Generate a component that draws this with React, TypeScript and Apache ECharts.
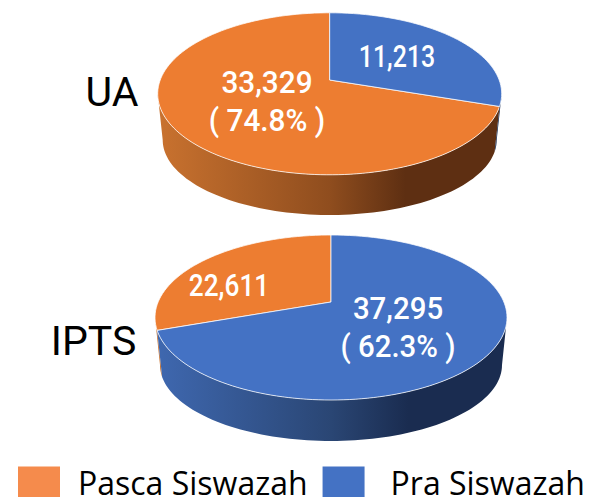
import React, { useEffect, useRef } from "react";
import * as echarts from "echarts";

const pieNames = ["UA", "IPTS"];
const seriesNames = ["Pasca Siswazah", "Pra Siswazah"];
const pascaValues = [33329, 22611];
const praValues = [11213, 37295];
// clockwise rim angles of each wedge as drawn in the picture (degrees from 12 o'clock)
const pascaArcStart = [99, 261];
const pascaArcEnd = [360, 360];
const praArcStart = [0, 0];
const praArcEnd = [99, 261];

const FONT = "Roboto, sans-serif";

const pies = [
  { cx: 329.7, cy: 93.8, rx: 172, ry: 81, apexY: 80, cy2: 140, rx2: 167, ry2: 75, nameX: 112, nameY: 92 },
  { cx: 331, cy: 317.5, rx: 176, ry: 82.5, apexY: 302, cy2: 365, rx2: 171, ry2: 76, nameX: 93.5, nameY: 341 },
];
const labelAt = [
  [[267, 101], [229, 285]],
  [[397, 56], [398, 327]],
];
const labelScale = [
  [0.93, 0.82],
  [0.78, 0.92],
];
const wallStops = [
  [
    { offset: 0, color: "#C9722F" },
    { offset: 0.5, color: "#8F4D1E" },
    { offset: 0.72, color: "#5E2F12" },
    { offset: 1, color: "#5E2F12" },
  ],
  [
    { offset: 0, color: "#3F68B0" },
    { offset: 0.5, color: "#2A4674" },
    { offset: 0.72, color: "#1A2C50" },
    { offset: 1, color: "#1A2C50" },
  ],
];
const faceColors = ["#ED7D31", "#4472C4"];
const swatchColors = ["#F58B4C", "#4472C4"];
const legendTextGap = [13, 21];

function rim(cx: number, cy: number, rx: number, ry: number, deg: number) {
  const t = (deg * Math.PI) / 180;
  return [cx + rx * Math.sin(t), cy - ry * Math.cos(t)];
}

function arcDegrees(a: number, b: number) {
  const out: number[] = [];
  for (let d = a; d < b; d += 2) out.push(d);
  out.push(b);
  return out;
}

function makeRender(seriesIndex: number) {
  return (_params: any, api: any) => {
    const pieIndex = api.value(0);
    const start = api.value(1);
    const end = api.value(2);
    const value = api.value(3);
    const other = (seriesIndex === 0 ? praValues : pascaValues)[pieIndex];
    const p = pies[pieIndex];
    const children: any[] = [];

    const wallA = Math.max(start, 90);
    const wallB = Math.min(end, 270);
    if (wallB > wallA) {
      const deg = arcDegrees(wallA, wallB);
      const pts = [
        ...deg.map((d) => rim(p.cx, p.cy, p.rx, p.ry, d)),
        ...deg.slice().reverse().map((d) => rim(p.cx, p.cy2, p.rx2, p.ry2, d)),
      ];
      children.push({
        type: "polygon",
        shape: { points: pts },
        style: {
          fill: new echarts.graphic.LinearGradient(p.cx - p.rx, 0, p.cx + p.rx, 0, wallStops[seriesIndex], true),
        },
      });
    }

    const facePts = [[p.cx, p.apexY], ...arcDegrees(start, end).map((d) => rim(p.cx, p.cy, p.rx, p.ry, d))];
    children.push({
      type: "polygon",
      shape: { points: facePts },
      style: { fill: faceColors[seriesIndex], stroke: "rgba(255,255,255,0.75)", lineWidth: 1 },
    });

    let text = value.toLocaleString("en-US");
    if (value > other) text += `\n( ${((value / (value + other)) * 100).toFixed(1)}% )`;
    const at = labelAt[seriesIndex][pieIndex];
    children.push({
      type: "text",
      x: at[0],
      y: at[1],
      scaleX: labelScale[seriesIndex][pieIndex],
      style: {
        text,
        x: 0,
        y: 0,
        fill: "#FFFFFF",
        font: `500 32px ${FONT}`,
        align: "center",
        verticalAlign: "middle",
        lineHeight: 38,
      },
    });
    return { type: "group", children };
  };
}

function rows(starts: number[], ends: number[], values: number[]) {
  return values.map((v, i) => [i, starts[i], ends[i], v]);
}

export default function App() {
  const ref = useRef<HTMLDivElement>(null);
  useEffect(() => {
    document.body.style.margin = "0";
    const chart = echarts.init(ref.current!, null, { renderer: "svg" });
    chart.setOption({
      animation: false,
      backgroundColor: "#FFFFFF",
      legend: {
        left: 18,
        top: 466,
        padding: 0,
        itemWidth: 42,
        itemHeight: 31,
        itemGap: 15,
        icon: "rect",
        selectedMode: false,
        data: seriesNames.map((name, i) => ({
          name,
          itemStyle: { color: swatchColors[i], borderWidth: 0 },
          textStyle: {
            color: "#000000",
            fontFamily: "'Open Sans', sans-serif",
            fontSize: 32,
            lineHeight: 31,
            padding: [0, 0, 0, legendTextGap[i]],
          },
        })),
      },
      graphic: pieNames.map((name, i) => ({
        type: "text",
        style: {
          text: name,
          x: pies[i].nameX,
          y: pies[i].nameY,
          fill: "#000000",
          font: `400 41px ${FONT}`,
          align: "center",
          verticalAlign: "middle",
        },
      })),
      series: [
        {
          type: "custom",
          name: seriesNames[0],
          coordinateSystem: "none",
          silent: true,
          itemStyle: { color: swatchColors[0] },
          renderItem: makeRender(0),
          data: rows(pascaArcStart, pascaArcEnd, pascaValues),
        },
        {
          type: "custom",
          name: seriesNames[1],
          coordinateSystem: "none",
          silent: true,
          itemStyle: { color: swatchColors[1] },
          renderItem: makeRender(1),
          data: rows(praArcStart, praArcEnd, praValues),
        },
      ],
    });
    return () => chart.dispose();
  }, []);
  return <div ref={ref} style={{ width: 602, height: 497 }} />;
}
